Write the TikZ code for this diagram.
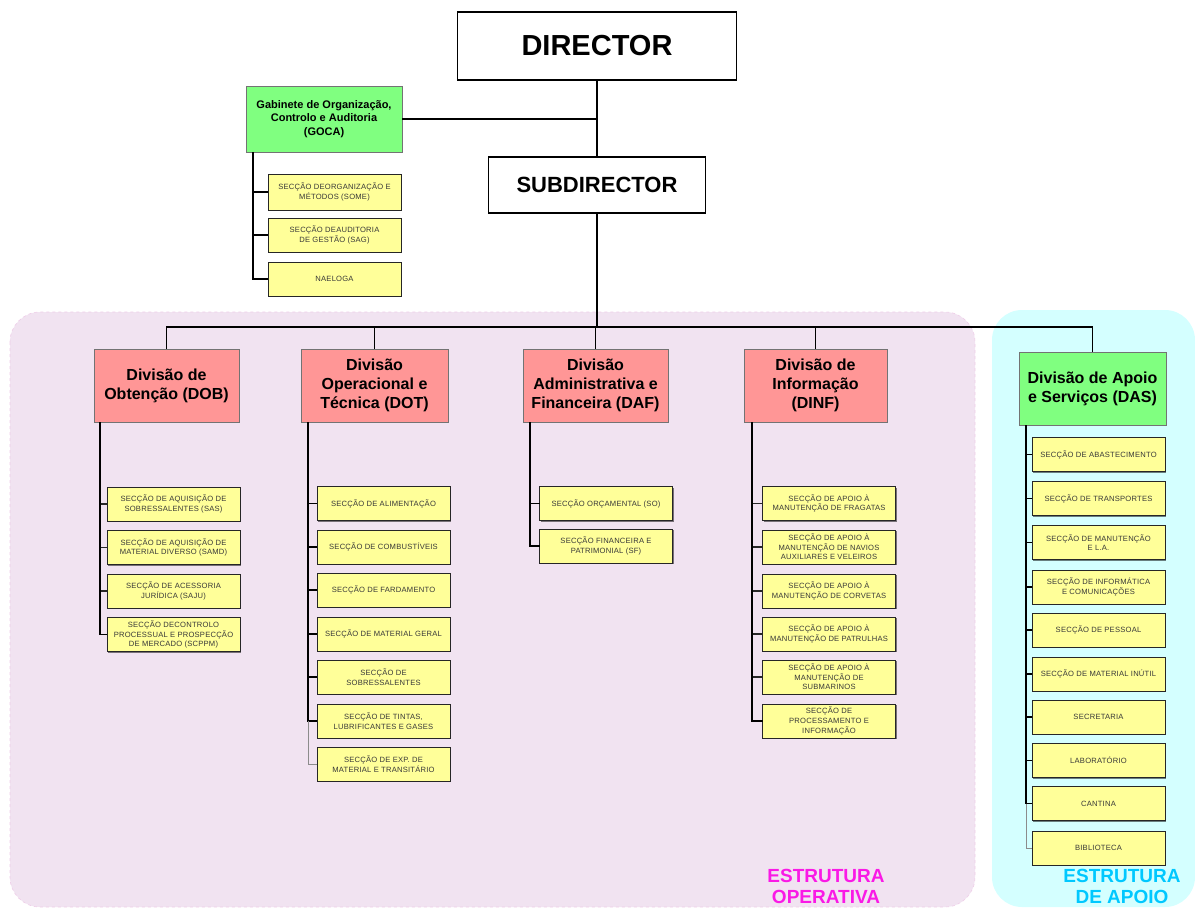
\documentclass[tikz,border=0pt]{standalone}
\usepackage{fontspec}
\setmainfont{Liberation Sans}
\newfontfamily\secfont[LetterSpace=3]{Liberation Sans}
\usetikzlibrary{shadows}

\definecolor{opbg}{RGB}{241,227,241}
\definecolor{opedge}{RGB}{238,205,232}
\definecolor{apbg}{RGB}{212,255,255}
\definecolor{divpink}{RGB}{255,150,150}
\definecolor{divgreen}{RGB}{128,255,128}
\definecolor{secyellow}{RGB}{255,255,153}
\definecolor{opmagenta}{RGB}{250,25,230}
\definecolor{apcyan}{RGB}{0,200,255}

\tikzset{
  topbox/.style={draw=black, line width=1.8pt, fill=white, inner sep=0pt, outer sep=0pt},
  divbox/.style={draw=black!55, line width=0.8pt, inner sep=0pt, outer sep=0pt,
    align=center, font=\bfseries\fontsize{16}{19}\selectfont,
    drop shadow={shadow xshift=1.2pt, shadow yshift=-1.2pt, opacity=0.35, fill=black}},
  secbox/.style={draw=black!85, line width=1pt, fill=secyellow, inner sep=0pt, outer sep=0pt,
    minimum width=133, minimum height=34, align=center, text=black!78,
    font=\secfont\fontsize{7.6}{9.6}\selectfont,
    drop shadow={shadow xshift=1pt, shadow yshift=-1pt, opacity=0.5, fill=black}},
  conn/.style={line width=1.7pt, black},
  branch/.style={line width=1.2pt, black!85},
  thinbranch/.style={line width=0.7pt, black!45},
  region/.style={rounded corners=30pt},
}

\begin{document}
\begin{tikzpicture}[x=1pt,y=-1pt]
\useasboundingbox (0,0) rectangle (1195,908);

% structure regions
\fill[region, opbg] (10,312) rectangle (975,907);
\draw[region, opedge, dashed, line width=0.6pt] (10,312) rectangle (975,907);
\fill[region, apbg] (992,310) rectangle (1195,907);

% top management
\node[topbox, minimum width=279, minimum height=68,
  font=\bfseries\fontsize{29}{34}\selectfont] (dir) at (597,46) {DIRECTOR};
\node[topbox, minimum width=217, minimum height=56,
  font=\bfseries\fontsize{22}{26}\selectfont] (sub) at (597,185) {SUBDIRECTOR};
\node[divbox, fill=divgreen, minimum width=156, minimum height=66,
  font=\bfseries\fontsize{11}{13.5}\selectfont] (goca) at (324,119)
  {Gabinete de Organização,\\Controlo e Auditoria\\(GOCA)};

% divisions
\node[divbox, fill=divpink, minimum width=145, minimum height=73] (dob) at (166.5,385.5)
  {Divisão de\\Obtenção (DOB)};
\node[divbox, fill=divpink, minimum width=147, minimum height=73] (dot) at (374.5,385.5)
  {Divisão\\Operacional e\\Técnica (DOT)};
\node[divbox, fill=divpink, minimum width=145, minimum height=73] (daf) at (595.5,385.5)
  {Divisão\\Administrativa e\\Financeira (DAF)};
\node[divbox, fill=divpink, minimum width=143, minimum height=73] (dinf) at (815.5,385.5)
  {Divisão de\\Informação\\(DINF)};
\node[divbox, fill=divgreen, minimum width=147, minimum height=73] (das) at (1092.5,388.5)
  {Divisão de Apoio\\e Serviços (DAS)};

% GOCA sections
\node[secbox, minimum height=36] (some) at (334.5,192) {SECÇÃO DEORGANIZAÇÃO E\\MÉTODOS (SOME)};
\node[secbox] (sag) at (334.5,235) {SECÇÃO DEAUDITORIA\\DE GESTÃO (SAG)};
\node[secbox] (nae) at (334.5,279) {NAELOGA};

% DOB sections
\node[secbox] (sas) at (173.5,504) {SECÇÃO DE AQUISIÇÃO DE\\SOBRESSALENTES (SAS)};
\node[secbox] (samd) at (173.5,547.5) {SECÇÃO DE AQUISIÇÃO DE\\MATERIAL DIVERSO (SAMD)};
\node[secbox] (saju) at (173.5,591) {SECÇÃO DE ACESSORIA\\JURÍDICA (SAJU)};
\node[secbox] (scppm) at (173.5,634.5) {SECÇÃO DECONTROLO\\PROCESSUAL E PROSPECÇÃO\\DE MERCADO (SCPPM)};

% DOT sections
\node[secbox] (alim) at (383.5,503.5) {SECÇÃO DE ALIMENTAÇÃO};
\node[secbox] (comb) at (383.5,547) {SECÇÃO DE COMBUSTÍVEIS};
\node[secbox] (fard) at (383.5,590) {SECÇÃO DE FARDAMENTO};
\node[secbox] (matg) at (383.5,634) {SECÇÃO DE MATERIAL GERAL};
\node[secbox] (sobr) at (383.5,677) {SECÇÃO DE\\SOBRESSALENTES};
\node[secbox] (tint) at (383.5,721) {SECÇÃO DE TINTAS,\\LUBRIFICANTES E GASES};
\node[secbox] (expm) at (383.5,764) {SECÇÃO DE EXP. DE\\MATERIAL E TRANSITÁRIO};

% DAF sections
\node[secbox] (so) at (606,503.5) {SECÇÃO ORÇAMENTAL (SO)};
\node[secbox] (sf) at (606,546) {SECÇÃO FINANCEIRA E\\PATRIMONIAL (SF)};

% DINF sections
\node[secbox] (frag) at (829,503.5) {SECÇÃO DE APOIO À\\MANUTENÇÃO DE FRAGATAS};
\node[secbox] (nav) at (829,547) {SECÇÃO DE APOIO À\\MANUTENÇÃO DE NAVIOS\\AUXILIARES E VELEIROS};
\node[secbox] (corv) at (829,591) {SECÇÃO DE APOIO À\\MANUTENÇÃO DE CORVETAS};
\node[secbox] (patr) at (829,634) {SECÇÃO DE APOIO À\\MANUTENÇÃO DE PATRULHAS};
\node[secbox] (subm) at (829,677) {SECÇÃO DE APOIO À\\MANUTENÇÃO DE\\SUBMARINOS};
\node[secbox] (proc) at (829,721) {SECÇÃO DE\\PROCESSAMENTO E\\INFORMAÇÃO};

% DAS sections
\node[secbox] (abas) at (1098.5,454.5) {SECÇÃO DE ABASTECIMENTO};
\node[secbox] (trans) at (1098.5,498.5) {SECÇÃO DE TRANSPORTES};
\node[secbox] (manla) at (1098.5,542.5) {SECÇÃO DE MANUTENÇÃO\\E L.A.};
\node[secbox] (infc) at (1098.5,587) {SECÇÃO DE INFORMÁTICA\\E COMUNICAÇÕES};
\node[secbox] (pess) at (1098.5,630) {SECÇÃO DE PESSOAL};
\node[secbox] (minu) at (1098.5,674) {SECÇÃO DE MATERIAL INÚTIL};
\node[secbox] (secr) at (1098.5,717) {SECRETARIA};
\node[secbox] (labo) at (1098.5,760.5) {LABORATÓRIO};
\node[secbox] (cant) at (1098.5,803.5) {CANTINA};
\node[secbox] (bibl) at (1098.5,848) {BIBLIOTECA};

% main hierarchy
\coordinate (bar) at (597,327);
\draw[conn] (dir.south) -- (sub.north);
\draw[conn] (goca.east) -- (goca.east -| dir.south);
\draw[conn] (sub.south) -- (bar);
\foreach \d in {dob,dot,daf,dinf,das}
  \draw[conn] (\d.north) |- (bar);

% spines of each unit
\coordinate (gocaS) at (253,152);
\coordinate (dobS) at (100,422);
\coordinate (dotS) at (308,422);
\coordinate (dafS) at (530,422);
\coordinate (dinfS) at (752,422);
\coordinate (dasS) at (1026,425);

\foreach \s in {some,sag,nae} \draw[conn] (gocaS) |- (\s.west);
\foreach \s in {sas,samd,saju} \draw[branch] (dobS) |- (\s.west);
\draw[conn] (dobS) |- (scppm.west);
\foreach \s in {alim,comb,fard,matg,sobr,tint} \draw[conn] (dotS) |- (\s.west);
\draw[thinbranch] (dotS |- tint.west) |- (expm.west);
\foreach \s in {so,sf} \draw[conn] (dafS) |- (\s.west);
\foreach \s in {frag,nav,corv,patr,subm} \draw[branch] (dinfS) |- (\s.west);
\draw[conn] (dinfS) |- (proc.west);
\foreach \s in {abas,trans,manla,infc,pess,minu,secr,labo,cant} \draw[conn] (dasS) |- (\s.west);
\draw[thinbranch] (dasS |- cant.west) |- (bibl.west);

% region labels
\node[font=\bfseries\fontsize{19}{21}\selectfont, text=opmagenta, align=center] (oplab) at (826,886)
  {ESTRUTURA\\OPERATIVA};
\node[font=\bfseries\fontsize{19}{21}\selectfont, text=apcyan, align=center] (aplab) at (1122,886)
  {ESTRUTURA\\DE APOIO};
\end{tikzpicture}
\end{document}
